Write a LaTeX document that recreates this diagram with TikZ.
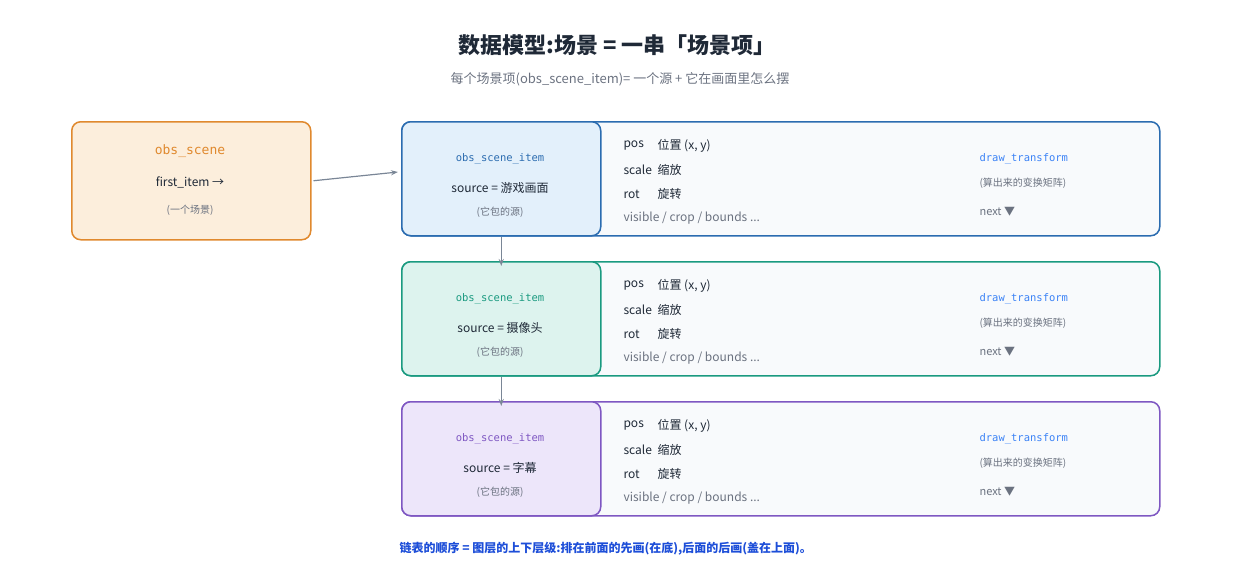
\documentclass[tikz,border=0pt]{standalone}
\usepackage{fontspec}
\setmainfont{Noto Sans CJK SC}
\setmonofont{DejaVu Sans Mono}
\usetikzlibrary{arrows.meta,positioning}
\definecolor{ink}{HTML}{1F2937}
\definecolor{grey}{HTML}{6B7280}
\definecolor{arr}{HTML}{7A8696}
\definecolor{orgB}{HTML}{E0892E}\definecolor{orgF}{HTML}{FCEEDC}
\definecolor{bluB}{HTML}{2B6CB0}\definecolor{bluF}{HTML}{E3F0FB}
\definecolor{grnB}{HTML}{1A9A80}\definecolor{grnF}{HTML}{DDF3EE}
\definecolor{purB}{HTML}{7E57C2}\definecolor{purF}{HTML}{EDE6FA}
\definecolor{rowF}{HTML}{F8FAFC}
\definecolor{lnk}{HTML}{3B82F6}
\definecolor{foot}{HTML}{1D4ED8}

\begin{document}
\begin{tikzpicture}[x=1pt,y=-1pt,>={Stealth[length=7pt,width=5pt]},
  box/.style={draw,line width=1.5pt,rounded corners=9pt,anchor=north west,inner sep=0pt},
  field/.style={anchor=west,font=\fontsize{12}{14}\selectfont,text=ink},
  note/.style={font=\fontsize{10}{12}\selectfont,text=grey},
  tag/.style={font=\ttfamily\fontsize{10.5}{12}\selectfont}]

\useasboundingbox (0,0) rectangle (1240,560);

\node[font=\bfseries\fontsize{22}{26}\selectfont,text=ink] (title) at (617,45) {数据模型:场景 = 一串「场景项」};
\node[font=\fontsize{13}{16}\selectfont,text=grey] (sub) at (620,79) {每个场景项(obs\_scene\_item)= 一个源 + 它在画面里怎么摆};

% the scene
\node[box,draw=orgB,fill=orgF,minimum width=239pt,minimum height=118pt] (scene) at (71,121) {};
\node[tag,text=orgB,font=\ttfamily\fontsize{13}{15}\selectfont] (sname) at (190,151) {obs\_scene};
\node[field,anchor=center] (first) at (190,182) {first\_item →};
\node[note] (snote) at (190,210) {(一个场景)};

% the items
\foreach \i/\y/\B/\F/\src in {1/121/bluB/bluF/游戏画面,2/261/grnB/grnF/摄像头,3/401/purB/purF/字幕}{
  \node[box,draw=\B,fill=rowF,minimum width=758pt,minimum height=114pt] (row\i) at (401,\y) {};
  \node[box,draw=\B,fill=\F,minimum width=199pt,minimum height=114pt] (item\i) at (401,\y) {};
  \node[tag,text=\B] (iname\i) at (500,\y+38) {obs\_scene\_item};
  \node[field,anchor=center] (src\i) at (500,\y+67) {source = \src};
  \node[note] (inote\i) at (500,\y+91) {(它包的源)};
  \node[field] (pos\i) at (620,\y+25) {pos};
  \node[field] (posv\i) at (654,\y+25) {位置 (x, y)};
  \node[field] (scl\i) at (620,\y+49) {scale};
  \node[field] (sclv\i) at (654,\y+49) {缩放};
  \node[field] (rot\i) at (620,\y+73) {rot};
  \node[field] (rotv\i) at (654,\y+73) {旋转};
  \node[field,text=grey] (vis\i) at (620,\y+97) {visible / crop / bounds ...};
  \node[tag,text=lnk,anchor=west] (dt\i) at (976,\y+38) {draw\_transform};
  \node[note,anchor=west] (mat\i) at (976,\y+62) {(算出来的变换矩阵)};
  \node[field,text=grey,font=\fontsize{11}{13}\selectfont] (nxt\i) at (976,\y+91) {next ▼};
}

\draw[->,arr,line width=1.2pt] (scene.east) ++(2,0) coordinate (a0) -- ([xshift=-3pt,yshift=-13pt]item1.north west |- iname1) coordinate (a1);
\draw[->,arr,line width=1.2pt] (item1.south) -- ([yshift=-5pt]item2.north);
\draw[->,arr,line width=1.2pt] (item2.south) -- ([yshift=-5pt]item3.north);

\node[anchor=west,text=foot,font=\bfseries\fontsize{12}{14}\selectfont] (footer) at (396,549) {链表的顺序 = 图层的上下层级:排在前面的先画(在底),后面的后画(盖在上面)。};
\end{tikzpicture}
\end{document}
